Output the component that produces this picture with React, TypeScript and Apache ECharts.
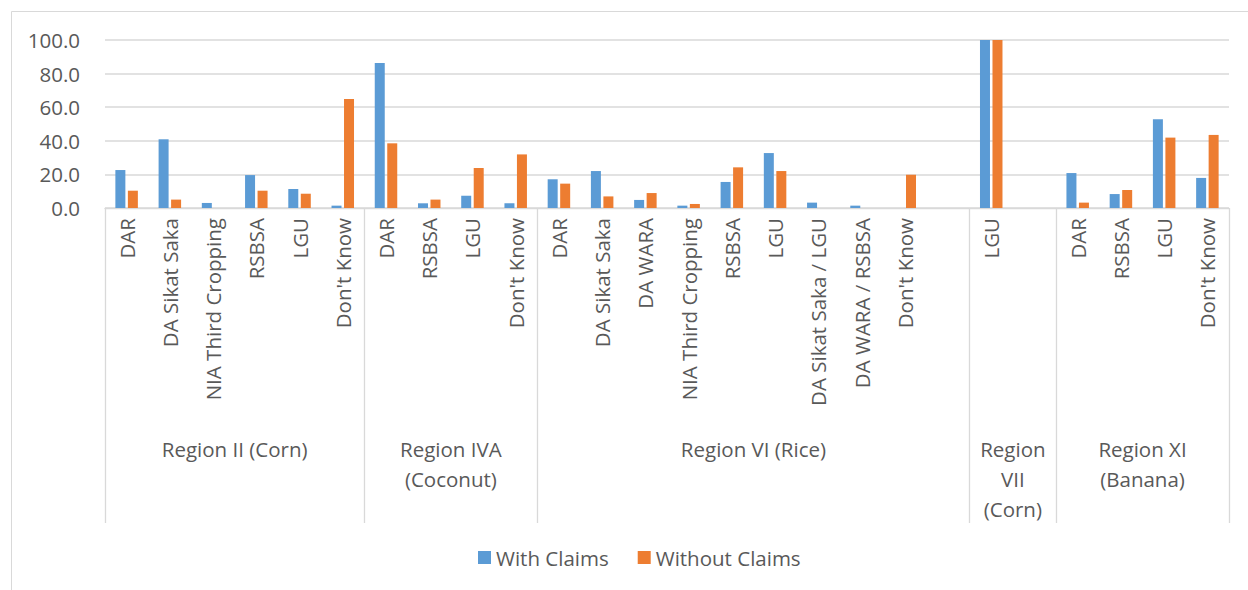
import React, { useEffect, useRef } from "react";
import * as echarts from "echarts";

// Category labels (level 1); empty strings are blank slots in the source chart
const categories: string[] = [
  "DAR", "DA Sikat Saka", "NIA Third Cropping", "RSBSA", "LGU", "Don't Know",
  "DAR", "RSBSA", "LGU", "Don't Know",
  "DAR", "DA Sikat Saka", "DA WARA", "NIA Third Cropping", "RSBSA", "LGU",
  "DA Sikat Saka / LGU", "DA WARA / RSBSA", "Don't Know", "",
  "LGU", "",
  "DAR", "RSBSA", "LGU", "Don't Know",
];

// Region groups (level 2)
const regions: string[] = [
  "Region II (Corn)",
  "Region IVA\n(Coconut)",
  "Region VI (Rice)",
  "Region\nVII\n(Corn)",
  "Region XI\n(Banana)",
];
const regionSizes: number[] = [6, 4, 10, 2, 4];

const withClaims: number[] = [
  22.6, 40.9, 3.0, 19.6, 11.3, 1.4,
  86.3, 2.8, 7.3, 2.8,
  17.1, 22.0, 4.8, 1.4, 15.5, 32.7, 3.2, 1.4, 0, 0,
  100, 0,
  20.8, 8.3, 52.8, 17.9,
];

const withoutClaims: number[] = [
  10.3, 5.0, 0, 10.3, 8.5, 64.9,
  38.5, 5.0, 23.8, 31.9,
  14.5, 6.9, 8.9, 2.4, 24.2, 22.0, 0, 0, 19.8, 0,
  100, 0,
  3.2, 10.7, 41.9, 43.5,
];

const yTicks: number[] = [0, 20, 40, 60, 80, 100];

const FONT = "'Open Sans', 'Noto Sans', sans-serif";
const FS = 20.5;
const GRAY = "#595959";
const LINE = "#d9d9d9";

export default function App() {
  const ref = useRef<HTMLDivElement>(null);

  useEffect(() => {
    if (!ref.current) return;
    const chart = echarts.init(ref.current, undefined, { renderer: "svg" });

    // boundaries and centres of region groups (in category units)
    const bounds: number[] = [0];
    regionSizes.forEach((s) => bounds.push(bounds[bounds.length - 1] + s));
    const centers: number[] = regionSizes.map((s, i) => bounds[i] + s / 2);
    const centerLabel: Record<string, string> = {};
    centers.forEach((c, i) => (centerLabel[String(c)] = regions[i]));

    chart.setOption({
      animation: false,
      textStyle: { fontFamily: FONT },
      graphic: [
        {
          type: "rect",
          shape: { x: 11.5, y: 11.5, width: 1300, height: 700 },
          style: { fill: "none", stroke: LINE, lineWidth: 1 },
          silent: true,
        },
      ],
      grid: { left: 105, right: 19, top: 40, bottom: 382 },
      legend: {
        left: 473,
        top: 542,
        icon: "rect",
        itemWidth: 13,
        itemHeight: 13,
        itemGap: 29,
        textStyle: { fontSize: FS, color: GRAY, fontFamily: FONT },
        data: ["With Claims", "Without Claims"],
      },
      xAxis: [
        {
          type: "category",
          data: categories,
          position: "bottom",
          axisLine: { show: true, lineStyle: { color: LINE, width: 1.3 } },
          axisTick: { show: false },
          axisLabel: {
            interval: 0,
            rotate: 90,
            margin: 10,
            fontSize: FS,
            color: GRAY,
            fontFamily: FONT,
          },
        },
        {
          type: "value",
          min: 0,
          max: bounds[bounds.length - 1],
          position: "bottom",
          axisLine: { show: false },
          splitLine: { show: false },
          axisTick: {
            show: true,
            customValues: bounds,
            length: 315,
            lineStyle: { color: LINE, width: 1.3 },
          },
          axisLabel: {
            customValues: centers,
            margin: 226,
            fontSize: FS,
            lineHeight: 30,
            color: GRAY,
            fontFamily: FONT,
            formatter: (v: number) => centerLabel[String(v)] || "",
          },
        },
      ],
      yAxis: {
        type: "value",
        min: yTicks[0],
        max: yTicks[yTicks.length - 1],
        interval: yTicks[1] - yTicks[0],
        axisLine: { show: false },
        axisTick: { show: false },
        splitLine: { lineStyle: { color: LINE, width: 1.5 } },
        axisLabel: {
          margin: 25,
          fontSize: FS,
          color: GRAY,
          fontFamily: FONT,
          formatter: (v: number) => v.toFixed(1),
        },
      },
      series: [
        {
          name: "With Claims",
          type: "bar",
          data: withClaims,
          xAxisIndex: 0,
          barWidth: 10,
          barGap: "25%",
          itemStyle: { color: "#5B9BD5" },
        },
        {
          name: "Without Claims",
          type: "bar",
          data: withoutClaims,
          xAxisIndex: 0,
          barWidth: 10,
          barGap: "25%",
          itemStyle: { color: "#ED7D31" },
        },
      ],
    });

    return () => chart.dispose();
  }, []);

  return (
    <div
      ref={ref}
      style={{ position: "fixed", left: 0, top: 0, width: 1248, height: 590, background: "#fff" }}
    />
  );
}
